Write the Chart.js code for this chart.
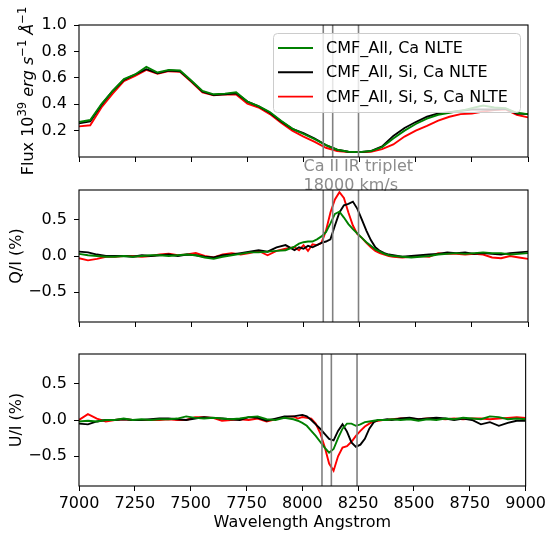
<!DOCTYPE html>
<html><head><meta charset="utf-8">
<script src="https://cdn.jsdelivr.net/npm/chart.js@4.4.1/dist/chart.umd.min.js"></script>
<style>
html,body{margin:0;padding:0;background:#fff;}
#wrap{position:relative;width:549px;height:536px;overflow:hidden;background:#fff;}
canvas{position:absolute;left:0;top:0;}
</style></head><body>
<div id="wrap">
<canvas id="c1" width="549" height="536"></canvas>
<canvas id="c2" width="549" height="536"></canvas>
<canvas id="c3" width="549" height="536"></canvas>
</div>
<script>
// ---------- data ----------
const seriesLabels = ['CMF_All, Ca NLTE', 'CMF_All, Si, Ca NLTE', 'CMF_All, Si, S, Ca NLTE'];
const seriesColors = ['#008000', '#000000', '#ff0000'];

const wavelengthFlux = [7000,7050,7100,7150,7200,7250,7300,7350,7400,7450,7500,7550,7600,7650,7700,7750,7800,7850,7900,7950,
  8000,8050,8100,8150,8200,8250,8300,8350,8400,8450,8500,8550,8600,8650,8700,8750,8800,8850,8900,8950,9000];
const fluxGreen = [0.265,0.28,0.40,0.50,0.59,0.625,0.683,0.64,0.66,0.655,0.58,0.50,0.475,0.48,0.49,0.42,0.385,0.34,0.275,0.215,
  0.175,0.135,0.09,0.055,0.04,0.037,0.045,0.075,0.14,0.20,0.25,0.29,0.32,0.335,0.35,0.37,0.39,0.375,0.37,0.335,0.325];
const fluxBlack = [0.255,0.27,0.395,0.50,0.585,0.625,0.665,0.635,0.655,0.65,0.575,0.495,0.47,0.475,0.483,0.42,0.383,0.335,0.27,0.213,
  0.18,0.14,0.09,0.055,0.04,0.037,0.045,0.08,0.16,0.22,0.265,0.305,0.33,0.34,0.35,0.36,0.36,0.36,0.365,0.33,0.325];
const fluxRed = [0.232,0.24,0.375,0.48,0.575,0.615,0.66,0.63,0.65,0.645,0.57,0.49,0.468,0.475,0.473,0.405,0.375,0.325,0.26,0.20,
  0.155,0.115,0.07,0.045,0.037,0.037,0.04,0.06,0.095,0.155,0.20,0.235,0.275,0.305,0.325,0.33,0.345,0.355,0.36,0.32,0.30];

const wavelengthPol = [7000,7040,7080,7120,7160,7200,7240,7280,7320,7360,7400,7440,7480,7520,7560,7600,7640,7680,7720,7760,7800,7840,7880,7920,7960,
  7980,8000,8020,8040,8060,8080,8100,8120,8140,8160,8180,8200,8220,8240,8260,8280,8300,8320,8340,8360,8380,
  8400,8440,8480,8520,8560,8600,8640,8680,8720,8760,8800,8840,8880,8920,8960,9000];

const qGreen = [0.03,0.01,0.0,-0.01,-0.01,0.0,-0.01,0.0,0.01,0.01,0.0,0.01,0.02,0.01,-0.02,-0.04,-0.01,0.01,0.03,0.05,0.05,0.06,0.07,0.08,0.13,
  0.17,0.19,0.2,0.2,0.23,0.27,0.33,0.45,0.58,0.61,0.53,0.44,0.37,0.31,0.25,0.19,0.14,0.09,0.06,0.03,0.01,
  0.0,-0.01,-0.02,-0.01,0.0,0.02,0.03,0.04,0.03,0.04,0.05,0.04,0.04,0.02,0.03,0.04];
const qBlack = [0.06,0.05,0.02,0.0,0.0,0.0,-0.01,0.01,0.0,0.01,0.02,0.0,0.02,0.01,-0.01,-0.02,0.01,0.02,0.04,0.06,0.08,0.06,0.12,0.15,0.08,
  0.12,0.10,0.14,0.12,0.15,0.18,0.2,0.23,0.42,0.6,0.7,0.72,0.75,0.65,0.5,0.35,0.22,0.12,0.07,0.04,0.02,
  0.01,-0.01,0.0,0.01,0.02,0.03,0.05,0.04,0.05,0.03,0.04,0.03,0.02,0.04,0.05,0.06];
const qRed = [-0.03,-0.06,-0.04,-0.01,-0.01,0.0,0.0,-0.01,0.0,0.02,0.03,0.01,0.02,0.04,0.0,-0.02,0.02,0.04,0.02,0.04,0.07,0.01,0.07,0.10,0.12,
  0.08,0.15,0.07,0.16,0.15,0.18,0.35,0.6,0.78,0.88,0.8,0.6,0.42,0.3,0.25,0.18,0.12,0.07,0.04,0.02,0.0,
  -0.01,-0.02,-0.01,0.0,-0.01,0.04,0.03,0.03,0.02,0.03,0.02,-0.02,-0.03,0.0,-0.02,-0.04];

const uGreen = [-0.02,-0.01,-0.02,0.0,0.0,0.02,0.0,0.01,0.0,0.01,0.01,0.02,0.05,0.03,0.02,0.03,0.02,0.01,0.02,0.04,0.05,0.01,0.0,0.03,0.01,
  -0.01,-0.04,-0.08,-0.15,-0.22,-0.3,-0.38,-0.45,-0.4,-0.25,-0.12,-0.05,-0.05,-0.08,-0.06,-0.03,-0.02,-0.01,0.0,0.0,0.0,
  0.01,0.0,0.01,-0.01,0.01,0.0,0.02,0.01,0.03,0.02,0.01,0.05,0.04,0.01,0.02,0.01];
const uBlack = [-0.05,-0.06,-0.02,0.0,0.0,0.01,0.0,0.0,0.01,0.02,0.02,0.01,0.0,0.02,0.04,0.03,0.02,0.01,0.0,0.04,0.03,-0.01,0.02,0.05,0.05,
  0.06,0.07,0.05,0.0,-0.06,-0.12,-0.19,-0.26,-0.28,-0.15,-0.06,-0.16,-0.31,-0.37,-0.34,-0.26,-0.12,-0.03,0.0,0.0,0.01,
  0.0,0.02,0.03,0.01,0.02,0.03,0.02,0.0,0.02,0.0,-0.06,-0.03,-0.08,-0.04,-0.01,-0.01];
const uRed = [0.0,0.08,0.02,-0.02,0.0,0.01,0.0,0.0,0.0,0.0,0.01,0.0,0.0,0.04,0.04,0.03,-0.01,0.0,0.01,0.0,0.02,-0.02,0.01,0.04,0.05,
  0.02,0.04,0.03,0.02,-0.05,-0.18,-0.37,-0.6,-0.7,-0.5,-0.38,-0.36,-0.3,-0.22,-0.15,-0.09,-0.05,-0.02,-0.01,0.0,0.0,
  0.01,0.02,0.02,0.01,0.02,0.02,0.01,0.02,0.01,0.02,0.02,0.01,0.02,0.03,0.04,0.03];

const xTicks = [7000,7250,7500,7750,8000,8250,8500,8750,9000];
const fluxTicks = [0.2,0.4,0.6,0.8,1.0];
const polTicks = [-0.5,0.0,0.5];
const tripletLines = [8088, 8130, 8245];
const annotationX = 8000;
const annotationLines = ['Ca II IR triplet', '18000 km/s'];

// ---------- drawing ----------
const FONT = "'DejaVu Sans', sans-serif";
Chart.defaults.font.family = FONT;
Chart.defaults.font.size = 16;
Chart.defaults.color = '#000';

const labelCfg = {
  c1: { ylabel: [{t:'Flux 10'},{t:'39',sup:1},{t:' '},{t:'erg',it:1},{t:' '},{t:'s',it:1},{t:'\u22121',sup:1},{t:' '},{t:'\u00c5',it:1},{t:'\u22121',sup:1}], ylx: 33, legend: true, annot: true },
  c2: { ylabel: [{t:'Q/I (%)'}], ylx: 21 },
  c3: { ylabel: [{t:'U/I (%)'}], ylx: 21, xlabel: 'Wavelength Angstrom' }
};

function segFont(s, size) {
  const sz = s.sup ? size * 0.72 : size;
  return (s.it ? 'italic ' : '') + sz + 'px ' + FONT;
}
function drawRich(ctx, segs, bx, cy, size) {
  ctx.save();
  ctx.translate(bx, cy);
  ctx.rotate(-Math.PI / 2);
  let total = 0;
  const widths = segs.map(s => { ctx.font = segFont(s, size); const w = ctx.measureText(s.t).width; total += w; return w; });
  let x = -total / 2;
  ctx.textBaseline = 'alphabetic';
  ctx.textAlign = 'left';
  ctx.fillStyle = '#000';
  segs.forEach((s, i) => {
    ctx.font = segFont(s, size);
    ctx.fillText(s.t, x, s.sup ? -size * 0.45 : 0);
    x += widths[i];
  });
  ctx.restore();
}

const decor = {
  id: 'decor',
  afterDatasetsDraw(chart) {
    const ctx = chart.ctx, a = chart.chartArea, xs = chart.scales.x;
    ctx.save();
    ctx.strokeStyle = '#808080';
    ctx.lineWidth = 1.6;
    tripletLines.forEach(w => {
      const px = xs.getPixelForValue(w);
      ctx.beginPath(); ctx.moveTo(px, a.top); ctx.lineTo(px, a.bottom); ctx.stroke();
    });
    ctx.strokeStyle = '#000';
    ctx.lineWidth = 1.1;
    ctx.strokeRect(a.left, a.top, a.right - a.left, a.bottom - a.top);
    ctx.restore();
  },
  afterDraw(chart) {
    const ctx = chart.ctx, a = chart.chartArea, xs = chart.scales.x;
    const cfg = labelCfg[chart.canvas.id];
    ctx.save();
    drawRich(ctx, cfg.ylabel, cfg.ylx, (a.top + a.bottom) / 2, 16);
    if (cfg.xlabel) {
      ctx.font = '16px ' + FONT; ctx.fillStyle = '#000';
      ctx.textAlign = 'center'; ctx.textBaseline = 'alphabetic';
      ctx.fillText(cfg.xlabel, (a.left + a.right) / 2, a.bottom + 41);
    }
    if (cfg.annot) {
      ctx.font = '16px ' + FONT; ctx.fillStyle = '#8c8c8c';
      ctx.textAlign = 'left'; ctx.textBaseline = 'alphabetic';
      const px = xs.getPixelForValue(annotationX);
      annotationLines.forEach((t, i) => ctx.fillText(t, px, a.bottom + 14 + i * 18.5));
    }
    if (cfg.legend) {
      const w = 247, h = 79;
      const L = a.right - 8 - w, T = a.top + 8;
      ctx.beginPath();
      if (ctx.roundRect) ctx.roundRect(L + 0.5, T + 0.5, w, h, 4); else ctx.rect(L + 0.5, T + 0.5, w, h);
      ctx.fillStyle = 'rgba(255,255,255,0.8)';
      ctx.fill();
      ctx.strokeStyle = '#cccccc'; ctx.lineWidth = 1; ctx.stroke();
      chart.data.datasets.forEach((ds, i) => {
        const y = T + 15 + i * 24.3;
        ctx.strokeStyle = ds.borderColor; ctx.lineWidth = 1.9;
        ctx.beginPath(); ctx.moveTo(L + 5, y); ctx.lineTo(L + 40, y); ctx.stroke();
        ctx.font = '16px ' + FONT; ctx.fillStyle = '#000';
        ctx.textAlign = 'left'; ctx.textBaseline = 'middle';
        ctx.fillText(ds.label, L + 53, y + 1);
      });
    }
    ctx.restore();
  }
};

function fmtY(v) { return (v < 0 ? '\u2212' : '') + Math.abs(v).toFixed(1); }

function makeChart(id, x, ys, o) {
  return new Chart(document.getElementById(id), {
    type: 'line',
    data: {
      datasets: ys.map((arr, k) => ({
        label: seriesLabels[k],
        data: x.map((w, i) => ({ x: w, y: arr[i] })),
        borderColor: seriesColors[k],
        borderWidth: 1.9,
        pointRadius: 0,
        fill: false,
        tension: 0
      }))
    },
    options: {
      responsive: false, animation: false, devicePixelRatio: 1,
      layout: { padding: { left: 0, right: 21, top: o.top, bottom: o.padBottom } },
      plugins: { legend: { display: false }, tooltip: { enabled: false } },
      scales: {
        x: {
          type: 'linear', min: 7000, max: 9000,
          afterBuildTicks(s) { s.ticks = xTicks.map(v => ({ value: v })); },
          afterFit(s) { s.height = o.xh; },
          ticks: { display: o.xlabels, callback: v => String(v), padding: 3, maxRotation: 0, autoSkip: false, color: '#000', font: { size: 16 } },
          grid: { drawOnChartArea: false, drawTicks: true, tickLength: 5, color: '#000', lineWidth: 1 },
          border: { display: false }
        },
        y: {
          type: 'linear', min: o.ymin, max: o.ymax,
          afterBuildTicks(s) { s.ticks = o.yticks.map(v => ({ value: v })); },
          afterFit(s) { s.width = 79; },
          ticks: { callback: v => fmtY(v), padding: 7, color: '#000', font: { size: 16 } },
          grid: { drawOnChartArea: false, drawTicks: true, tickLength: 5, color: '#000', lineWidth: 1 },
          border: { display: false }
        }
      }
    },
    plugins: [decor]
  });
}

makeChart('c1', wavelengthFlux, [fluxGreen, fluxBlack, fluxRed],
  { top: 25, padBottom: 373, xh: 6, xlabels: false, ymin: 0, ymax: 1.0, yticks: fluxTicks });
makeChart('c2', wavelengthPol, [qGreen, qBlack, qRed],
  { top: 190, padBottom: 208, xh: 6, xlabels: false, ymin: -0.91, ymax: 0.91, yticks: polTicks });
makeChart('c3', wavelengthPol, [uGreen, uBlack, uRed],
  { top: 354, padBottom: 25, xh: 25, xlabels: true, ymin: -0.91, ymax: 0.91, yticks: polTicks });
</script>
</body></html>
